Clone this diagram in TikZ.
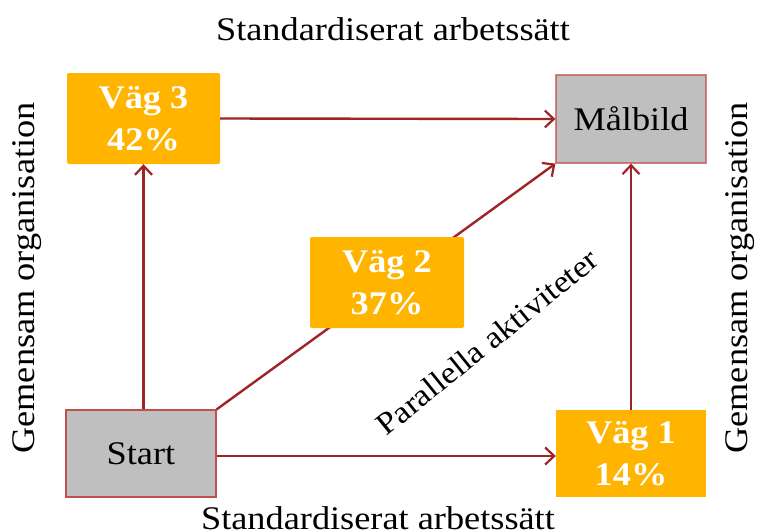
\documentclass[tikz,border=0pt]{standalone}
\usepackage{fontspec}
\setmainfont{Liberation Serif}[FakeStretch=1.1]
\usetikzlibrary{arrows.meta}
\definecolor{pathorange}{RGB}{255,180,0}
\definecolor{boxgray}{RGB}{191,191,191}
\definecolor{linkred}{RGB}{160,36,38}
\definecolor{edgered}{RGB}{192,80,77}
\begin{document}
\begin{tikzpicture}[x=1pt,y=-1pt,
  path/.style={fill=pathorange,rounded corners=2pt,text=white,font=\fontsize{33}{42}\selectfont\bfseries,align=center,inner sep=0pt},
  endpoint/.style={fill=boxgray,draw=edgered,line width=1.2pt,font=\fontsize{33}{40}\selectfont,inner sep=0pt},
  link/.style={draw=linkred,line width=2.4pt,-{Straight Barb[length=9pt,width=17pt,line width=2.2pt]}},
  caption/.style={font=\fontsize{33}{40}\selectfont,inner sep=0pt}]
\useasboundingbox (0,0) rectangle (757,531);

% boxes
\node[endpoint,minimum width=150pt,minimum height=87pt] (start) at (141,453.5) {Start};
\node[endpoint,draw opacity=0.7,minimum width=150pt,minimum height=88pt] (goal) at (631,119) {Målbild};
\node[path,minimum width=153pt,minimum height=91pt] (v3) at (143.5,118.5) {Väg 3\\42\%};
\node[path,rounded corners=0pt,minimum width=150pt,minimum height=87pt] (v1) at (631,453.5) {Väg 1\\14\%};

% diagonal link runs behind the middle box
\draw[link] (start.north east) -- (goal.south west);
\node[path,minimum width=154pt,minimum height=91pt] (v2) at (387,282.5) {Väg 2\\37\%};

% remaining links
\draw[link] (v3.east) -- (goal.west);
\draw[link] (start.north -| v3.south) -- (v3.south);
\draw[link] (start.east) ++(0,2.5) coordinate (se) (se) -- (se -| v1.west);
\draw[link] (v1.north) -- (goal.south);

% captions
\node[caption,anchor=base] (top) at (393,40) {Standardiserat arbetssätt};
\node[caption,anchor=base] (bottom) at (378,529) {Standardiserat arbetssätt};
\node[caption,rotate=90] (left) at (27,278) {Gemensam organisation};
\node[caption,rotate=90] (right) at (740,278) {Gemensam organisation};
\node[caption,font=\fontsize{31}{38}\selectfont,rotate=39] (par) at (487,342) {Parallella aktiviteter};
\end{tikzpicture}
\end{document}
